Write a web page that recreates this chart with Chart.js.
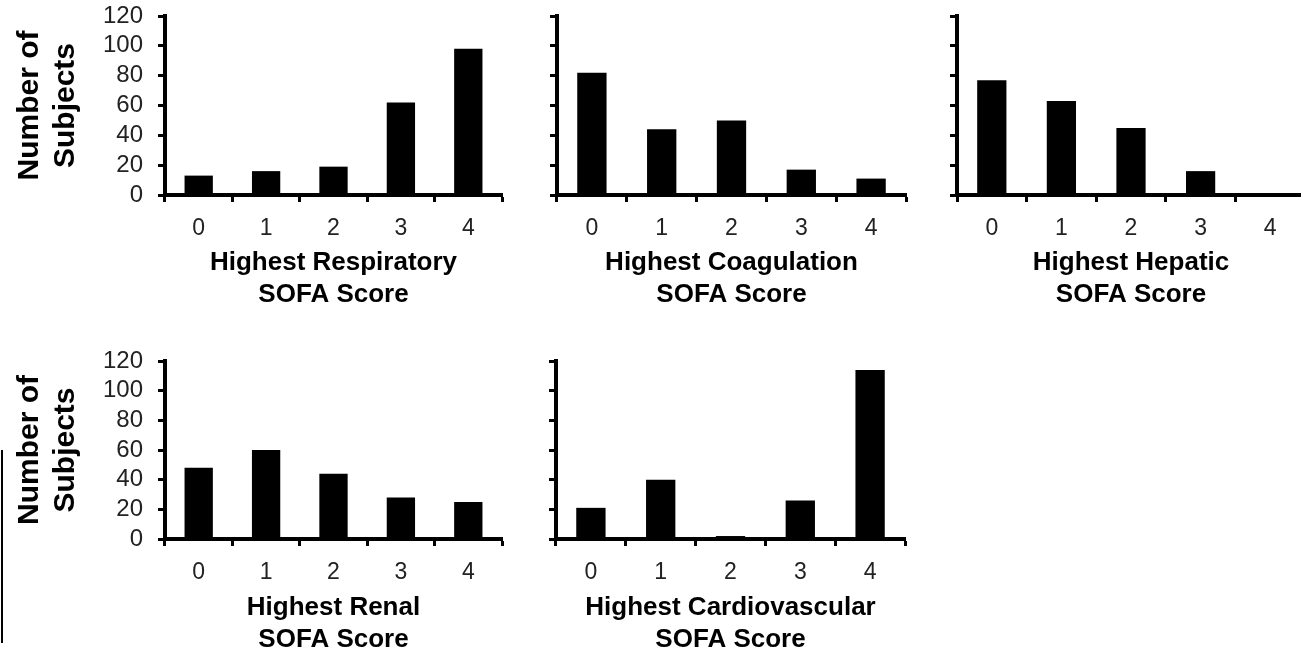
<!DOCTYPE html>
<html>
<head>
<meta charset="utf-8">
<script src="https://cdn.jsdelivr.net/npm/chart.js@4.4.1/dist/chart.umd.min.js"></script>
<style>
  html, body { margin: 0; padding: 0; background: #fff; width: 1301px; height: 655px; overflow: hidden; }
  canvas { position: absolute; }
  #edge { position: absolute; left: 1px; top: 450px; width: 2px; height: 193px; background: #000; }
</style>
</head>
<body>
<canvas id="resp" width="504" height="312" style="left:0px;top:0px"></canvas>
<canvas id="coag" width="361" height="312" style="left:547px;top:0px"></canvas>
<canvas id="hep" width="360" height="312" style="left:947px;top:0px"></canvas>
<canvas id="renal" width="504" height="312" style="left:0px;top:345px"></canvas>
<canvas id="cardio" width="361" height="312" style="left:546px;top:345px"></canvas>
<div id="edge"></div>
<script>
// SOFA score categories
const scores = ['0', '1', '2', '3', '4'];

// number of subjects per highest score, one array per organ system
const respiratory = [13, 16, 19, 62, 98];
const coagulation = [82, 44, 50, 17, 11];
const hepatic = [77, 63, 45, 16, 1];
const renal = [48, 60, 44, 28, 25];
const cardiovascular = [21, 40, 2, 26, 114];

// y axis ticks 0..120 by 20
const yMax = 120;
const yStep = 20;

const FONT = '"Liberation Sans", Arial, sans-serif';

// one small bar chart per organ system
function makePanel(id, values, title, withLabels, axisHeight) {
  const ctx = document.getElementById(id).getContext('2d');
  return new Chart(ctx, {
    type: 'bar',
    data: {
      labels: scores,
      datasets: [{
        data: values,
        backgroundColor: '#000',
        borderWidth: 0,
        categoryPercentage: 1.0,
        barPercentage: 0.42,
      }],
    },
    options: {
      responsive: false,
      animation: false,
      layout: { padding: { top: 16, right: 2, bottom: 0, left: 0 } },
      plugins: { legend: { display: false }, tooltip: { enabled: false } },
      scales: {
        x: {
          offset: true,
          grid: {
            offset: true,
            drawOnChartArea: false,
            drawTicks: true,
            tickLength: 7,
            tickWidth: 3,
            tickColor: '#000',
          },
          border: { display: true, width: 4, color: '#000' },
          ticks: {
            padding: 13,
            color: '#222',
            font: { family: FONT, size: 23 },
          },
          title: {
            display: true,
            text: title,
            color: '#000',
            padding: { top: 0, bottom: 1 },
            font: { family: FONT, size: 26, weight: 'bold', lineHeight: 1.23 },
          },
          afterFit: (scale) => { scale.height = axisHeight; },
        },
        y: {
          min: 0,
          max: yMax,
          grid: {
            drawOnChartArea: false,
            drawTicks: true,
            tickLength: 7,
            tickWidth: 3,
            tickColor: '#000',
          },
          border: { display: true, width: 4, color: '#000' },
          ticks: {
            display: withLabels,
            stepSize: yStep,
            autoSkip: false,
            padding: 15,
            color: '#222',
            font: { family: FONT, size: 24 },
          },
          title: {
            display: withLabels,
            text: ['Number of', 'Subjects'],
            color: '#000',
            padding: { top: 12, bottom: 0 },
            font: { family: FONT, size: 30, weight: 'bold', lineHeight: 1.2 },
          },
          afterFit: (scale) => {
            scale.width = withLabels ? 165 : 10;
            // keep the plot top fixed, labels may overflow into the padding
            scale.paddingTop = 0;
            scale.paddingBottom = 0;
          },
        },
      },
    },
  });
}

makePanel('resp', respiratory, ['Highest Respiratory', 'SOFA Score'], true, 117);
makePanel('coag', coagulation, ['Highest Coagulation', 'SOFA Score'], false, 117);
makePanel('hep', hepatic, ['Highest Hepatic', 'SOFA Score'], false, 117);
makePanel('renal', renal, ['Highest Renal', 'SOFA Score'], true, 118);
makePanel('cardio', cardiovascular, ['Highest Cardiovascular', 'SOFA Score'], false, 118);
</script>
</body>
</html>
